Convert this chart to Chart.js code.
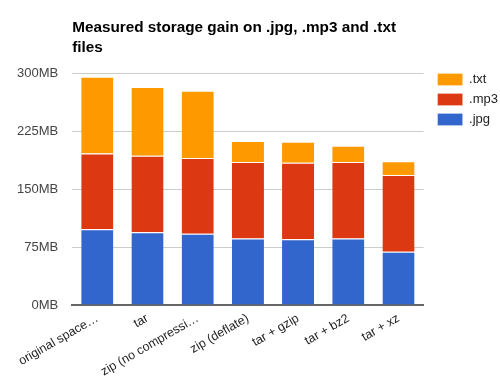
<!DOCTYPE html>
<html lang="en">
<head>
    <meta charset="UTF-8">
    <title>Measured storage gain</title>
    <script src="https://cdn.jsdelivr.net/npm/chart.js"></script>
    <style>
        body {
            margin: 0;
            padding: 0;
            background: #fff;
        }
        #wrap {
            width: 500px;
            height: 379px;
        }
    </style>
</head>
<body>
    <div id="wrap">
        <canvas id="chart"></canvas>
    </div>

    <script>
        const chartTitle = ['Measured storage gain on .jpg, .mp3 and .txt', 'files'];
        const categories = ['original space…', 'tar', 'zip (no compressi…', 'zip (deflate)', 'tar + gzip', 'tar + bz2', 'tar + xz'];
        const jpgValues = [98, 94, 92, 86, 85, 86, 69];
        const mp3Values = [98, 99, 98, 99, 99, 99, 99];
        const txtValues = [99, 89, 87, 27, 27, 21, 18];
        const yTicks = [0, 75, 150, 225, 300];

        const FONT = "'Liberation Sans', Arial, sans-serif";

        // title drawn flush with the left edge of the plot area
        const titlePlugin = {
            id: 'leftTitle',
            afterLayout(chart) {
                // nudge the legend so its first swatch lines up with the top gridline
                chart.legend.top -= 7;
                chart.legend.left += 7;
            },
            afterDraw(chart) {
                const ctx = chart.ctx;
                ctx.save();
                ctx.font = 'bold 15.3px ' + FONT;
                ctx.fillStyle = '#000';
                ctx.textBaseline = 'alphabetic';
                chartTitle.forEach((line, i) => {
                    ctx.fillText(line, chart.chartArea.left, 32 + i * 20);
                });
                ctx.restore();
            }
        };

        const ctx = document.getElementById('chart').getContext('2d');
        new Chart(ctx, {
            type: 'bar',
            data: {
                labels: categories,
                datasets: [
                    { label: '.jpg', data: jpgValues, backgroundColor: '#3366cc' },
                    { label: '.mp3', data: mp3Values, backgroundColor: '#dc3912' },
                    { label: '.txt', data: txtValues, backgroundColor: '#ff9900' }
                ]
            },
            options: {
                responsive: true,
                maintainAspectRatio: false,
                animation: false,
                layout: {
                    padding: { top: 73, left: 3, right: -1, bottom: 0 }
                },
                datasets: {
                    bar: {
                        categoryPercentage: 1,
                        barPercentage: 0.64,
                        borderColor: '#fff',
                        borderWidth: { top: 1, left: 0, right: 0, bottom: 0 },
                        borderSkipped: false
                    }
                },
                plugins: {
                    legend: {
                        position: 'right',
                        align: 'start',
                        reverse: true,
                        labels: {
                            boxWidth: 25,
                            boxHeight: 12,
                            padding: 7,
                            color: '#222',
                            font: { family: FONT, size: 13 }
                        }
                    },
                    tooltip: { enabled: false }
                },
                scales: {
                    x: {
                        stacked: true,
                        grid: { display: false },
                        border: { color: '#666', width: 2 },
                        afterFit: (scale) => { scale.height = 74; },
                        ticks: {
                            minRotation: 30,
                            maxRotation: 30,
                            autoSkip: false,
                            padding: -2,
                            color: '#222',
                            font: { family: FONT, size: 12.5 }
                        }
                    },
                    y: {
                        stacked: true,
                        min: 0,
                        max: 300,
                        afterBuildTicks: (axis) => {
                            axis.ticks = yTicks.map(v => ({ value: v }));
                        },
                        grid: { color: '#ccc', drawTicks: false },
                        border: { display: false },
                        ticks: {
                            padding: 14,
                            color: '#444',
                            font: { family: FONT, size: 13 },
                            callback: (v) => v + 'MB'
                        }
                    }
                }
            },
            plugins: [titlePlugin]
        });
    </script>
</body>
</html>
